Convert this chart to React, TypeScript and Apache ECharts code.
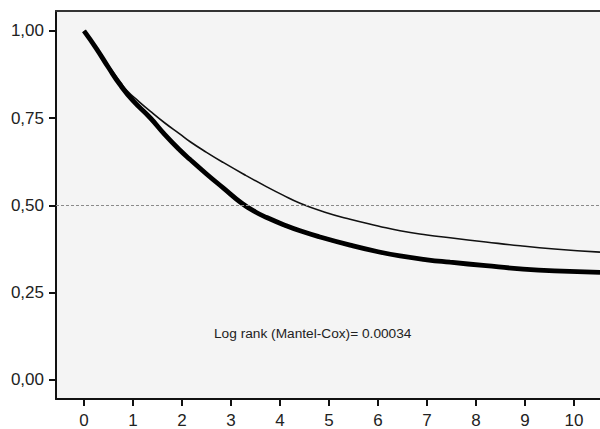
import React, { useEffect, useRef } from "react";
import * as echarts from "echarts";

// Survival curve data (time in years, survival proportion)
const thickTimes = [0, 0.25, 0.5, 0.75, 1, 1.35, 1.65, 1.96, 2.16, 2.5, 2.84, 3.22, 3.5, 3.73, 4.1, 4.41, 4.8, 5.43, 6, 6.45, 7, 7.47, 8.2, 8.9, 9.6, 10.53];
const thickValues = [1.0, 0.95, 0.895, 0.843, 0.8, 0.751, 0.703, 0.658, 0.632, 0.59, 0.55, 0.506, 0.481, 0.465, 0.443, 0.427, 0.41, 0.386, 0.367, 0.355, 0.344, 0.337, 0.327, 0.318, 0.312, 0.308];

const thinTimes = [0, 0.25, 0.5, 0.75, 0.88, 1.1, 1.35, 1.65, 1.96, 2.16, 2.5, 2.84, 3.3, 3.73, 4.05, 4.41, 4.9, 5.43, 6, 6.45, 7, 7.47, 8.2, 8.9, 9.6, 10.53];
const thinValues = [1.0, 0.952, 0.9, 0.852, 0.828, 0.8, 0.77, 0.736, 0.704, 0.683, 0.652, 0.623, 0.586, 0.553, 0.53, 0.506, 0.481, 0.46, 0.441, 0.427, 0.415, 0.407, 0.395, 0.384, 0.375, 0.366];

const xTickValues = [0, 1, 2, 3, 4, 5, 6, 7, 8, 9, 10];
const yTickValues = [0, 0.25, 0.5, 0.75, 1];
const referenceLevel = 0.5;
const annotation = "Log rank (Mantel-Cox)= 0.00034";

export default function App() {
  const ref = useRef<HTMLDivElement>(null);

  useEffect(() => {
    document.body.style.margin = "0";
    if (!ref.current) return;
    const chart = echarts.init(ref.current, null, { renderer: "svg" });
    const font = "'Liberation Sans', Arial, sans-serif";

    chart.setOption({
      animation: false,
      backgroundColor: "#ffffff",
      grid: {
        left: 56,
        top: 11,
        right: 0,
        bottom: 29,
        show: true,
        backgroundColor: "#f4f4f4",
        borderWidth: 0,
      },
      xAxis: [
        {
          type: "value",
          min: -0.571,
          max: 10.53,
          position: "bottom",
          axisLine: { show: true, onZero: false, lineStyle: { color: "#111", width: 2 } },
          axisTick: {
            show: true,
            length: 7,
            lineStyle: { color: "#111", width: 2 },
            customValues: xTickValues,
          },
          axisLabel: {
            show: true,
            customValues: xTickValues,
            color: "#222",
            fontSize: 17,
            fontFamily: font,
            margin: 13,
          },
          splitLine: { show: false },
        },
        {
          type: "value",
          min: -0.571,
          max: 10.53,
          position: "top",
          axisLine: { show: true, onZero: false, lineStyle: { color: "#333", width: 2 } },
          axisTick: { show: false },
          axisLabel: { show: false },
          splitLine: { show: false },
        },
      ],
      yAxis: {
        type: "value",
        min: -0.055,
        max: 1.057,
        axisLine: { show: true, onZero: false, lineStyle: { color: "#111", width: 2 } },
        axisTick: {
          show: true,
          length: 7,
          lineStyle: { color: "#111", width: 2 },
          customValues: yTickValues,
        },
        axisLabel: {
          show: true,
          customValues: yTickValues,
          color: "#222",
          fontSize: 17,
          fontFamily: font,
          margin: 12,
          formatter: (v: number) => v.toFixed(2).replace(".", ","),
        },
        splitLine: { show: false },
      },
      series: [
        {
          type: "line",
          data: thinTimes.map((t, i) => [t, thinValues[i]]),
          showSymbol: false,
          smooth: 0.5,
          lineStyle: { color: "#111", width: 1.6 },
          z: 2,
          markLine: {
            silent: true,
            symbol: "none",
            label: { show: false },
            lineStyle: { color: "#8a8a8a", type: [3, 2], width: 1 },
            data: [{ yAxis: referenceLevel }],
          },
        },
        {
          type: "line",
          data: thickTimes.map((t, i) => [t, thickValues[i]]),
          showSymbol: false,
          smooth: 0.5,
          lineStyle: { color: "#000", width: 4.8 },
          z: 3,
        },
      ],
      graphic: [
        {
          type: "text",
          x: 214,
          y: 333,
          style: {
            text: annotation,
            fontSize: 13.7,
            fontFamily: font,
            fill: "#222",
            verticalAlign: "middle",
          },
        },
      ],
    });

    return () => chart.dispose();
  }, []);

  return <div ref={ref} style={{ width: 600, height: 429 }} />;
}
